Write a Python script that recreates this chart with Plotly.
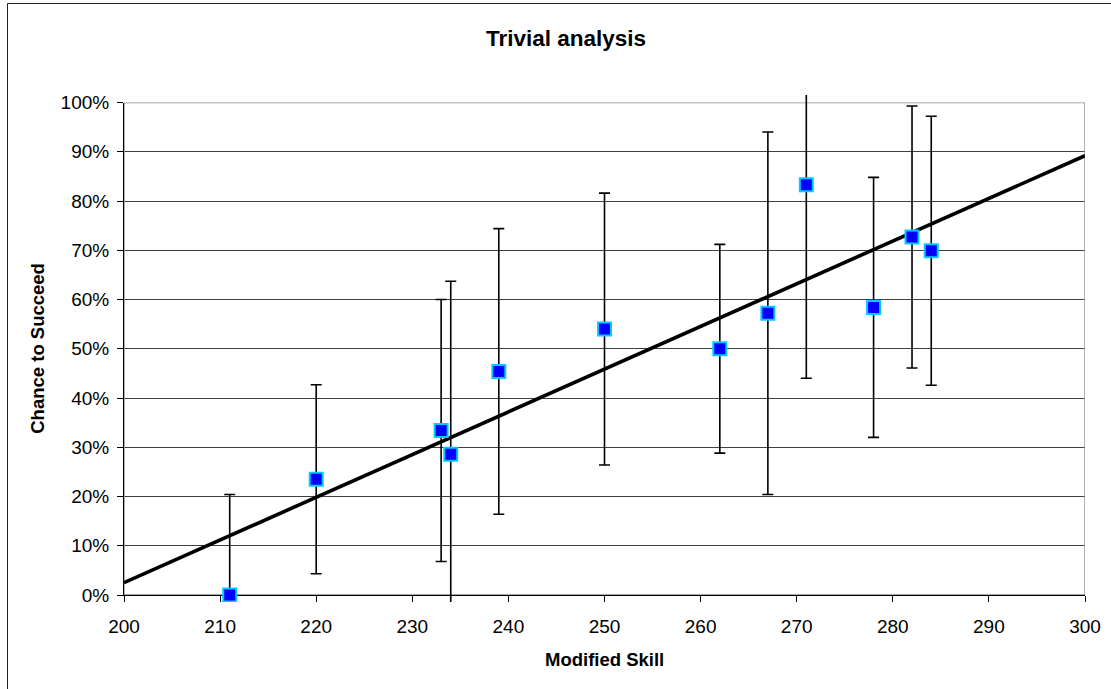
import plotly.graph_objects as go

# Observed success rate against modified skill, with confidence ranges
skill = [211, 220, 233, 234, 239, 250, 262, 267, 271, 278, 282, 284]
chance = [0.0, 0.235, 0.334, 0.286, 0.454, 0.540, 0.500, 0.572, 0.833, 0.584, 0.727, 0.699]
err_plus = [0.204, 0.192, 0.266, 0.351, 0.290, 0.276, 0.212, 0.368, 0.393, 0.264, 0.266, 0.273]
err_minus = [0.0, 0.192, 0.266, 0.351, 0.290, 0.276, 0.212, 0.368, 0.393, 0.264, 0.266, 0.273]

# Linear trend line end points
trend_x = [200, 300]
trend_y = [0.025, 0.892]

x_ticks = [200, 210, 220, 230, 240, 250, 260, 270, 280, 290, 300]
y_ticks = [0.0, 0.1, 0.2, 0.3, 0.4, 0.5, 0.6, 0.7, 0.8, 0.9, 1.0]

FONT = "Liberation Sans, Arial, sans-serif"
W, H = 1111, 689

# pixel layout of the figure
M_L, M_R, M_T, M_B = 124, 26, 95, 87
PLOT_TOP, PLOT_BOTTOM = 102.5, 595.0
paper_h = H - M_T - M_B
paper_w = W - M_L - M_R


def px_x(p):
    return (p - M_L) / paper_w


def px_y(p):
    return (H - M_B - p) / paper_h


y_dom = [px_y(PLOT_BOTTOM), px_y(PLOT_TOP)]
unit = PLOT_BOTTOM - PLOT_TOP
# overlay axis spans the whole paper area so the error bars may run a bit past the frame
y2_range = [-(H - M_B - PLOT_BOTTOM) / unit, 1 + (PLOT_TOP - M_T) / unit]

fig = go.Figure()

fig.add_trace(go.Scatter(
    x=trend_x, y=trend_y, mode="lines",
    line=dict(color="black", width=3.6),
    xaxis="x2", yaxis="y2", hoverinfo="skip",
))

fig.add_trace(go.Scatter(
    x=skill, y=chance, mode="markers",
    marker=dict(symbol="square", size=13, color="#0000FF",
                line=dict(color="#00CCFF", width=2)),
    error_y=dict(type="data", symmetric=False, array=err_plus, arrayminus=err_minus,
                 color="black", thickness=1.6, width=5.5),
    xaxis="x2", yaxis="y2",
))

tick_font = dict(family=FONT, size=19, color="black")

fig.update_layout(
    width=W, height=H,
    margin=dict(l=M_L, r=M_R, t=M_T, b=M_B, autoexpand=False),
    paper_bgcolor="white",
    plot_bgcolor="rgba(0,0,0,0)",
    showlegend=False,
    xaxis=dict(
        domain=[0, 1], range=[200, 300], tickvals=x_ticks, anchor="y",
        showline=True, linecolor="black", linewidth=1,
        ticks="outside", ticklen=6, tickcolor="black", tickwidth=1,
        ticklabelstandoff=8, automargin=False,
        showgrid=False, zeroline=False, tickfont=tick_font,
    ),
    yaxis=dict(
        domain=y_dom, range=[0, 1], tickvals=y_ticks, tickformat=".0%", anchor="x",
        showline=True, linecolor="black", linewidth=1,
        ticks="outside", ticklen=6, tickcolor="black", tickwidth=1,
        ticklabelstandoff=4, automargin=False,
        showgrid=True, gridcolor="#404040", gridwidth=1,
        zeroline=False, tickfont=tick_font,
    ),
    xaxis2=dict(domain=[0, 1], range=[200, 300], visible=False, anchor="y2"),
    yaxis2=dict(domain=[0, 1], range=y2_range, visible=False, anchor="x2"),
    shapes=[
        # grey frame on the top and right of the plot area
        dict(type="rect", xref="x", yref="y", x0=200, x1=300, y0=0, y1=1,
             line=dict(color="#8a8a8a", width=1.3), layer="between"),
        # outer chart border
        dict(type="rect", xref="paper", yref="paper",
             x0=px_x(7.5), x1=px_x(W + 20), y0=px_y(H + 20), y1=px_y(3.5),
             line=dict(color="#202020", width=1), layer="below"),
    ],
    annotations=[
        dict(text="<b>Trivial analysis</b>", xref="paper", yref="paper",
             x=px_x(566), y=px_y(38), xanchor="center", yanchor="middle",
             showarrow=False, font=dict(family=FONT, size=22.5, color="black")),
        dict(text="<b>Modified Skill</b>", xref="paper", yref="paper",
             x=px_x(604.5), y=px_y(659), xanchor="center", yanchor="middle",
             showarrow=False, font=dict(family=FONT, size=18.5, color="black")),
        dict(text="<b>Chance to Succeed</b>", xref="paper", yref="paper",
             x=px_x(38), y=px_y((PLOT_TOP + PLOT_BOTTOM) / 2), textangle=-90,
             xanchor="center", yanchor="middle",
             showarrow=False, font=dict(family=FONT, size=18.5, color="black")),
    ],
)

fig.write_html("out.html")
